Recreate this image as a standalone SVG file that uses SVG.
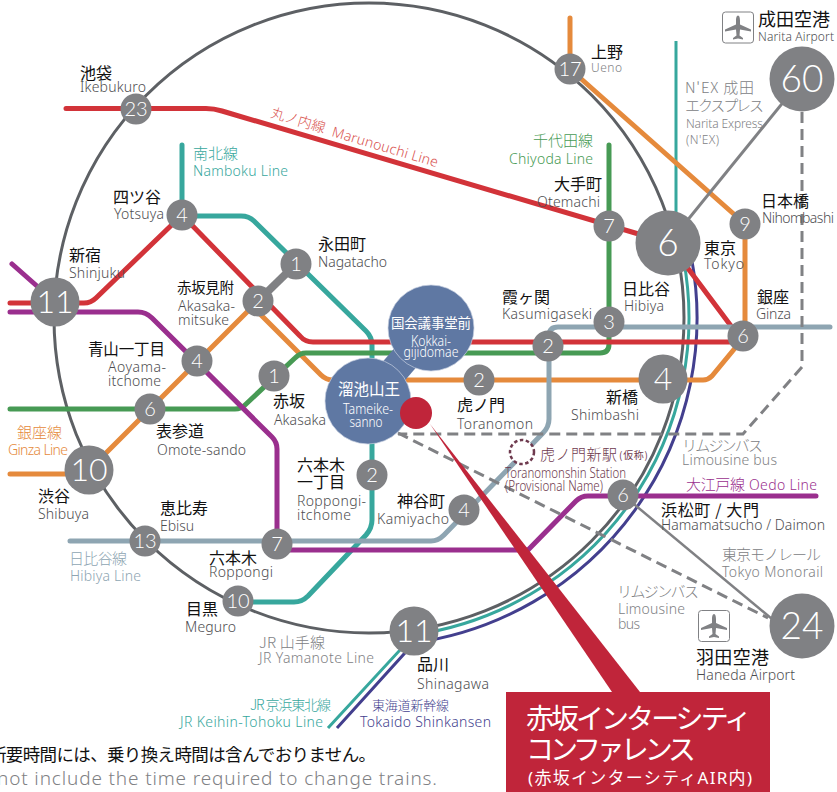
<svg xmlns="http://www.w3.org/2000/svg" xmlns:xlink="http://www.w3.org/1999/xlink" width="837" height="792" viewBox="0 0 837 792">
<style>
text{font-family:"Noto Sans","Noto Sans CJK JP",sans-serif}
.j{font-family:"Noto Sans CJK JP",sans-serif;font-size:16px;fill:#111;font-weight:400}
.e{font-size:14px;fill:#4d4d4f;font-weight:300}
.jg{font-family:"Noto Sans CJK JP",sans-serif;font-size:15px;fill:#808184;font-weight:300}
.eg{font-size:14px;fill:#808184;font-weight:300}
.l{fill:none;stroke-width:5;stroke-linecap:round;stroke-linejoin:round}
.t{fill:none;stroke-width:3}
.n{fill:#808184}
.s{font-family:"Lato","Noto Sans",sans-serif;font-weight:300;font-size:20px;fill:#fff;text-anchor:middle}
.m{font-size:32px}
.b{font-size:37px}
.p{fill:#5f78a3;stroke:#c6cfdf;stroke-width:.7}
.w{fill:#fff;text-anchor:middle}
.red{stroke:#d23339}.or{stroke:#e58a3c}.gr{stroke:#479a54}.te{stroke:#37a79d}.pu{stroke:#9a2f8e}.hi{stroke:#8ea5b2}.na{stroke:#433f8e}.ya{stroke:#5d6064}
.d{fill:none;stroke:#808184;stroke-width:3;stroke-dasharray:11 6}
</style>
<defs>
<g id="plane"><path d="M0,-12C1.500,-12 2,-9 2,-7L2,-3L13,2V4L2,2L1.500,8L5,10.500V12L0,11L-5,12V10.500L-1.500,8L-2,2L-13,4V2L-2,-3V-7C-2,-9 -1.500,-12 0,-12Z" fill="#808184"/></g>
</defs>
<rect width="837" height="792" fill="#fff"/>
<g id="connectors">
<circle class="t ya" cx="369" cy="318" r="315"/>
<path class="t te" d="M676,41V243M683.300,258A320,320 0 0 1 414,634.800L328,728"/>
<path class="t na" d="M691.500,258A328,328 0 0 1 414,642.900L337,728"/>
<path class="l or" d="M570,18V69L745,224V336L712,376Q708,380 703,380H333Q326,380 321,375L258,312V301L89,470M10,474H89"/>
<path class="l te" d="M182,145V216H241Q249,216 254,221L366,331Q372,337 372,345V520Q372,528 366,535L308,596Q302,602 294,602H238"/>
<path class="l gr" d="M609,145V344Q609,353 600,353H306Q300,353 295,358L245,405Q241,409 235,409H10"/>
<path class="l pu" d="M12,264L55,302M10,312H138Q146,312 152,318L272,437Q277,442 277,449V544M277,550H528L576,501Q581,496 588,496H816"/>
<path class="l red" d="M10,303H84Q91,303 96,298L182,215L300,336Q305,342 313,342H743L669,243M66,108.500H206Q214,108.500 222,111L669,243"/>
<path class="l hi" d="M70,541H431Q438,541 444,535L543,433Q549,427 549,419V336Q549,327 558,327H830"/>
<line x1="258" y1="301" x2="296" y2="264" stroke="#808184" stroke-width="8"/>
<path d="M669,243L802,79" fill="none" stroke="#808184" stroke-width="3"/>
<path d="M623,495L790,634" fill="none" stroke="#808184" stroke-width="2.500"/>
<path class="d" d="M802,112V367L743,434H398"/>
<path class="d" d="M398,433L768,618"/>
</g>
<g id="line-labels">
<text transform="translate(270,117) rotate(16.500)" font-family="Noto Sans CJK JP" font-size="14" fill="#d9534f" font-weight="300">丸ノ内線</text>
<text transform="translate(331,136) rotate(16.500)" font-size="14" fill="#d9534f" font-weight="300" textLength="110">Marunouchi Line</text>
<text class="jg" x="193" y="159" style="fill:#37a79d">南北線</text>
<text class="eg" x="193" y="176" textLength="95" style="fill:#37a79d">Namboku Line</text>
<text class="jg" x="533" y="146" style="fill:#479a54" textLength="60">千代田線</text>
<text class="eg" x="509" y="164" textLength="84" style="fill:#479a54">Chiyoda Line</text>
<text class="jg" x="17" y="438" style="fill:#e58a3c">銀座線</text>
<text class="eg" x="8" y="455" textLength="60" style="fill:#e58a3c">Ginza Line</text>
<text class="jg" x="69" y="564" style="fill:#8ea5b2" textLength="58">日比谷線</text>
<text class="eg" x="70" y="581" textLength="71" style="fill:#8ea5b2">Hibiya Line</text>
<text class="jg" x="259" y="648" textLength="66">JR 山手線</text>
<text class="eg" x="259" y="663" textLength="115">JR Yamanote Line</text>
<text class="jg" x="250" y="710" style="fill:#37a79d;font-size:14px" textLength="81">JR 京浜東北線</text>
<text class="eg" x="180" y="727" textLength="143" style="fill:#37a79d">JR Keihin-Tohoku Line</text>
<text class="jg" x="372" y="710" style="fill:#433f8e;font-size:13px" textLength="77">東海道新幹線</text>
<text class="eg" x="360" y="727" textLength="131" style="fill:#433f8e">Tokaido Shinkansen</text>
<text class="jg" x="685" y="93" textLength="69">N'EX 成田</text>
<text class="jg" x="685" y="111" textLength="79">エクスプレス</text>
<text class="eg" x="686" y="128" textLength="77" style="font-size:12px">Narita Express</text>
<text class="eg" x="686" y="144" textLength="33" style="font-size:12px">(N'EX)</text>
<text class="jg" x="682" y="451" textLength="81">リムジンバス</text>
<text class="eg" x="682" y="465" textLength="95">Limousine bus</text>
<text class="jg" x="617" y="597" textLength="82">リムジンバス</text>
<text class="eg" x="618" y="614" textLength="67">Limousine</text>
<text class="eg" x="618" y="629" textLength="22">bus</text>
<text class="jg" x="722" y="560" textLength="99">東京モノレール</text>
<text class="eg" x="722" y="577" textLength="101">Tokyo Monorail</text>
<text class="jg" x="686" y="490" textLength="59" style="fill:#9a2f8e">大江戸線</text>
<text class="eg" x="749" y="490" textLength="68" style="fill:#9a2f8e">Oedo Line</text>
</g>
<g id="st-ikebukuro"><circle class="n" cx="136" cy="109" r="15.500"/><text class="s" x="136" y="116">23</text><text class="j" x="80" y="79">池袋</text><text class="e" x="80" y="92" textLength="66">Ikebukuro</text></g>
<g id="st-yotsuya"><circle class="n" cx="182" cy="215" r="15.500"/><text class="s" x="182" y="222">4</text><text class="j" x="113" y="203">四ツ谷</text><text class="e" x="114" y="219" textLength="50">Yotsuya</text></g>
<g id="st-shinjuku"><circle class="n" cx="55" cy="302" r="24.500"/><text class="s m" x="55" y="313">11</text><text class="j" x="69" y="261">新宿</text><text class="e" x="69" y="278" textLength="56">Shinjuku</text></g>
<g id="st-nagatacho"><circle class="n" cx="296" cy="264" r="15.500"/><text class="s" x="296" y="271">1</text><text class="j" x="318" y="250">永田町</text><text class="e" x="318" y="267" textLength="69">Nagatacho</text></g>
<g id="st-akasakamitsuke"><circle class="n" cx="258" cy="301" r="15.500"/><text class="s" x="258" y="308">2</text><text class="j" x="177" y="293" textLength="57" style="font-size:14.500px">赤坂見附</text><text class="e" x="178" y="311" textLength="57">Akasaka-</text><text class="e" x="178" y="325" textLength="51">mitsuke</text></g>
<g id="st-aoyama"><circle class="n" cx="197" cy="361" r="15.500"/><text class="s" x="197" y="368">4</text><text class="j" x="88" y="355" textLength="77" style="font-size:15.500px">青山一丁目</text><text class="e" x="108" y="372" textLength="58">Aoyama-</text><text class="e" x="108" y="386" textLength="53">itchome</text></g>
<g id="st-akasaka"><circle class="n" cx="274" cy="376" r="15.500"/><text class="s" x="274" y="383">1</text><text class="j" x="273" y="407">赤坂</text><text class="e" x="274" y="425" textLength="52">Akasaka</text></g>
<g id="st-omotesando"><circle class="n" cx="150" cy="409" r="15.500"/><text class="s" x="150" y="416">6</text><text class="j" x="156" y="437">表参道</text><text class="e" x="157" y="455" textLength="89">Omote-sando</text></g>
<g id="st-shibuya"><circle class="n" cx="89" cy="470" r="24.500"/><text class="s m" x="89" y="481">10</text><text class="j" x="38" y="502">渋谷</text><text class="e" x="38" y="519" textLength="51">Shibuya</text></g>
<g id="st-ebisu"><circle class="n" cx="145" cy="541" r="15.500"/><text class="s" x="145" y="548">13</text><text class="j" x="160" y="514">恵比寿</text><text class="e" x="160" y="531" textLength="34">Ebisu</text></g>
<g id="st-roppongi"><circle class="n" cx="277" cy="544" r="15.500"/><text class="s" x="277" y="551">7</text><text class="j" x="209" y="564">六本木</text><text class="e" x="209" y="577" textLength="64">Roppongi</text></g>
<g id="st-meguro"><circle class="n" cx="238" cy="601" r="15.500"/><text class="s" x="238" y="608">10</text><text class="j" x="186" y="615">目黒</text><text class="e" x="185" y="632" textLength="51">Meguro</text></g>
<g id="st-shinagawa"><circle class="n" cx="414" cy="631" r="24.500"/><text class="s m" x="414" y="642">11</text><text class="j" x="417" y="670">品川</text><text class="e" x="417" y="689" textLength="72">Shinagawa</text></g>
<g id="st-roppongi-itchome"><circle class="n" cx="372" cy="475" r="15.500"/><text class="s" x="372" y="482">2</text><text class="j" x="297" y="471">六本木</text><text class="j" x="297" y="488">一丁目</text><text class="e" x="297" y="506" textLength="69">Roppongi-</text><text class="e" x="297" y="520" textLength="54">itchome</text></g>
<g id="st-kamiyacho"><circle class="n" cx="464" cy="510" r="15.500"/><text class="s" x="464" y="517">4</text><text class="j" x="397" y="507">神谷町</text><text class="e" x="377" y="524" textLength="72">Kamiyacho</text></g>
<g id="st-hamamatsucho"><circle class="n" cx="623" cy="495" r="15.500"/><text class="s" x="623" y="502">6</text><text class="j" x="661" y="516" textLength="98">浜松町 / 大門</text><text class="e" x="661" y="530" textLength="164">Hamamatsucho / Daimon</text></g>
<g id="st-toranomon"><circle class="n" cx="479" cy="380" r="15.500"/><text class="s" x="479" y="387">2</text><text class="j" x="457" y="411">虎ノ門</text><text class="e" x="457" y="429" textLength="76">Toranomon</text></g>
<g id="st-kasumigaseki2"><circle class="n" cx="548" cy="346" r="15.500"/><text class="s" x="548" y="353">2</text><text class="j" x="502" y="303">霞ヶ関</text><text class="e" x="502" y="319" textLength="90">Kasumigaseki</text></g>
<g id="st-kasumigaseki3"><circle class="n" cx="609" cy="322" r="15.500"/><text class="s" x="609" y="329">3</text><text class="j" x="622" y="295">日比谷</text><text class="e" x="624" y="311" textLength="40">Hibiya</text></g>
<g id="st-shimbashi"><circle class="n" cx="663" cy="379" r="24.500"/><text class="s m" x="663" y="390">4</text><text class="j" x="606" y="403">新橋</text><text class="e" x="571" y="420" textLength="68">Shimbashi</text></g>
<g id="st-ginza"><circle class="n" cx="743" cy="336" r="15.500"/><text class="s" x="743" y="343">6</text><text class="j" x="757" y="303">銀座</text><text class="e" x="756" y="319" textLength="35">Ginza</text></g>
<g id="st-nihombashi"><circle class="n" cx="745" cy="224" r="15.500"/><text class="s" x="745" y="231">9</text><text class="j" x="761" y="207">日本橋</text><text class="e" x="762" y="223" textLength="72">Nihombashi</text></g>
<g id="st-tokyo"><circle class="n" cx="668" cy="243" r="32.500"/><text class="s b" x="668" y="256">6</text><text class="j" x="704" y="254">東京</text><text class="e" x="704" y="269" textLength="40">Tokyo</text></g>
<g id="st-otemachi"><circle class="n" cx="609" cy="226" r="15.500"/><text class="s" x="609" y="233">7</text><text class="j" x="554" y="190">大手町</text><text class="e" x="537" y="207" textLength="63">Otemachi</text></g>
<g id="st-ueno"><circle class="n" cx="570" cy="69" r="15.500"/><text class="s" x="570" y="76">17</text><text class="j" x="591" y="58">上野</text><text class="eg" x="591" y="72" textLength="31" style="font-size:12px">Ueno</text></g>
<g id="airport-narita"><circle class="n" cx="802" cy="79" r="32.500"/><text class="s b" x="802" y="92">60</text><rect x="722.500" y="12" width="31" height="31" rx="3" fill="#fff" stroke="#808184"/><use xlink:href="#plane" x="738" y="27.500"/><text class="j" x="758" y="26" style="font-size:18px" textLength="72">成田空港</text><text class="e" x="758" y="41" textLength="76" style="font-size:12px">Narita Airport</text></g>
<g id="airport-haneda"><circle class="n" cx="802" cy="626" r="32.500"/><text class="s b" x="802" y="639">24</text><rect x="698.500" y="610.500" width="31" height="31" rx="3" fill="#fff" stroke="#808184"/><use xlink:href="#plane" x="714" y="626"/><text class="j" x="696" y="664" style="font-size:18px" textLength="73">羽田空港</text><text class="e" x="696" y="680" textLength="99">Haneda Airport</text></g>
<g id="st-toranomonshin"><circle cx="522" cy="452" r="12" fill="#fff" stroke="#6e3a4e" stroke-width="2.500" stroke-dasharray="3.500 2.500"/><text class="j" x="540" y="460" style="font-size:15px;fill:#6e3a4e;font-weight:300" textLength="77">虎ノ門新駅</text><text class="j" x="619" y="459" style="font-size:10px;fill:#6e3a4e" textLength="29">(仮称)</text><text class="e" x="505" y="478" textLength="121" lengthAdjust="spacingAndGlyphs" style="fill:#6e3a4e">Toranomonshin Station</text><text class="e" x="505" y="491" textLength="98" lengthAdjust="spacingAndGlyphs" style="fill:#6e3a4e">(Provisional Name)</text></g>
<g id="st-kokkai">
<line x1="368" y1="401" x2="431" y2="328" stroke="#5f78a3" stroke-width="29"/>
<circle class="p" cx="431" cy="328" r="43"/><text class="w" x="431" y="328" font-family="Noto Sans CJK JP" font-size="13.500" textLength="80">国会議事堂前</text><text class="w" x="431" y="346" font-size="14" font-weight="300" textLength="40" lengthAdjust="spacingAndGlyphs">Kokkai-</text><text class="w" x="431" y="357" font-size="14" font-weight="300" textLength="55" lengthAdjust="spacingAndGlyphs">gijidomae</text></g>
<g id="st-tameike"><circle class="p" cx="368" cy="401" r="43"/><text class="w" x="369" y="395" font-family="Noto Sans CJK JP" font-size="15.500" textLength="62">溜池山王</text><text class="w" x="368" y="414" font-size="14" font-weight="300" textLength="50" lengthAdjust="spacingAndGlyphs">Tameike-</text><text class="w" x="366" y="427" font-size="14" font-weight="300" textLength="33" lengthAdjust="spacingAndGlyphs">sanno</text></g>
<g id="venue">
<polygon points="430,424 612,692 640,692" fill="#c0253a"/>
<circle cx="416" cy="413" r="16" fill="#c0253a"/>
<rect x="506" y="692" width="264" height="100" fill="#c0253a"/>
<text x="526" y="729" fill="#fff" font-family="Noto Sans CJK JP" font-size="28" textLength="226">赤坂インターシティ</text>
<text x="526" y="760" fill="#fff" font-family="Noto Sans CJK JP" font-size="28" textLength="170">コンファレンス</text>
<text x="528" y="784" fill="#fff" font-family="Noto Sans CJK JP" font-size="17" textLength="224">(赤坂インターシティAIR内)</text>
</g>
<g id="notes">
<text class="j" x="-11" y="761" textLength="387" style="font-size:17.500px">所要時間には、乗り換え時間は含んでおりません。</text>
<text x="-3" y="785" font-size="19" fill="#808184" font-weight="300" textLength="440">not include the time required to change trains.</text>
</g>
</svg>
